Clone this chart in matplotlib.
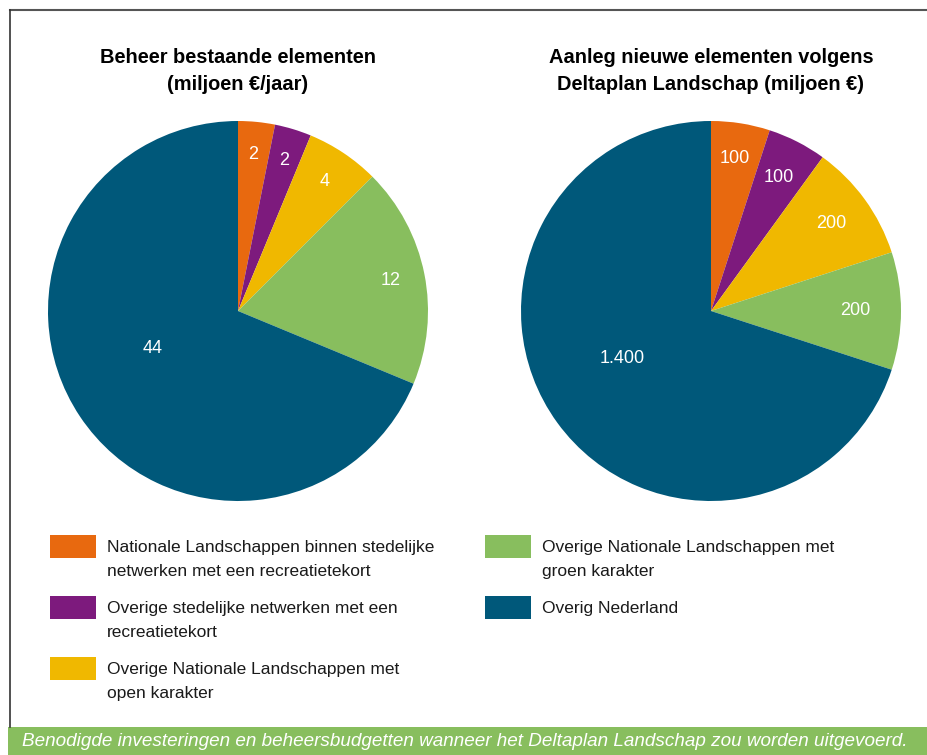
import numpy as np
import matplotlib
matplotlib.use("Agg")
from matplotlib import pyplot as plt
from matplotlib.lines import Line2D
from matplotlib.patches import Rectangle

plt.rcParams['font.family'] = ['Liberation Sans', 'DejaVu Sans']

W, H = 928, 755

categories = [
    "Nationale Landschappen binnen stedelijke\nnetwerken met een recreatietekort",
    "Overige stedelijke netwerken met een\nrecreatietekort",
    "Overige Nationale Landschappen met\nopen karakter",
    "Overige Nationale Landschappen met\ngroen karakter",
    "Overig Nederland",
]
colors = ["#E8690F", "#7D1A7D", "#F0B800", "#88BE5E", "#00587A"]

beheer = [2, 2, 4, 12, 44]
beheer_labels = ["2", "2", "4", "12", "44"]
aanleg = [100, 100, 200, 200, 1400]
aanleg_labels = ["100", "100", "200", "200", "1.400"]

titles = ["Beheer bestaande elementen\n(miljoen €/jaar)",
          "Aanleg nieuwe elementen volgens\nDeltaplan Landschap (miljoen €)"]
caption = "Benodigde investeringen en beheersbudgetten wanneer het Deltaplan Landschap zou worden uitgevoerd."

fig = plt.figure(figsize=(W / 100, H / 100), dpi=100)


def px_axes(cx, cy, r):
    return fig.add_axes([(cx - r) / W, (H - cy - r) / H, 2 * r / W, 2 * r / H])


def draw_pie(ax, vals, labels, dists, shift):
    wedges, _ = ax.pie(vals, colors=colors, startangle=90, counterclock=False,
                       wedgeprops=dict(linewidth=0))
    ax.set_xlim(-1, 1)
    ax.set_ylim(-1, 1)
    ax.set_aspect('equal')
    ax.axis('off')
    for w, lab, d, s in zip(wedges, labels, dists, shift):
        ang = np.deg2rad((w.theta1 + w.theta2) / 2 + s)
        ax.text(d * np.cos(ang), d * np.sin(ang), lab, ha='center', va='center',
                color='white', fontsize=13)


ax1 = px_axes(238, 311, 190)
draw_pie(ax1, beheer, beheer_labels, [0.83, 0.83, 0.82, 0.82, 0.49],
         [0, 0, 0, 0, -10])
ax2 = px_axes(711, 311, 190)
draw_pie(ax2, aanleg, aanleg_labels, [0.81, 0.79, 0.78, 0.76, 0.53],
         [0, 0, 0, 0, -8])

for cx, t in zip([238, 711], titles):
    fig.text(cx / W, 1 - 71 / H, t, ha='center', va='center', fontsize=14.4,
             fontweight='bold', linespacing=1.5)

# legend
positions = [(50, 546), (50, 607), (50, 668), (485, 546), (485, 607)]
for (x, y), lab, c in zip(positions, categories, colors):
    fig.patches.append(Rectangle((x / W, 1 - (y + 11.5) / H), 46 / W, 23 / H,
                                 transform=fig.transFigure, facecolor=c,
                                 edgecolor='none'))
    fig.text((x + 57) / W, 1 - (y - 6) / H, lab, ha='left', va='top',
             fontsize=12.5, color='#1a1a1a', linespacing=1.75)

# frame lines
fig.lines.append(Line2D([10 / W, 1], [1 - 10 / H, 1 - 10 / H],
                        transform=fig.transFigure, color='#555555', lw=1.5))
fig.lines.append(Line2D([10 / W, 10 / W], [1 - 10 / H, 1 - 727 / H],
                        transform=fig.transFigure, color='#333333', lw=1.2))

# caption bar
fig.patches.append(Rectangle((8 / W, 0), 1 - 8 / W, 28 / H,
                             transform=fig.transFigure, facecolor='#88BE5E',
                             edgecolor='none'))
fig.text(22 / W, 13 / H, caption, ha='left', va='center', color='white',
         fontsize=13.6, style='italic')

fig.savefig("out.png", dpi=100)
